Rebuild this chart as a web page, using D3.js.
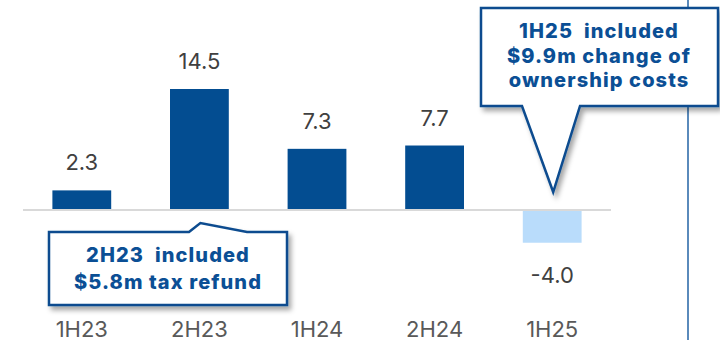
<!DOCTYPE html>
<html><head><meta charset="utf-8">
<script src="https://cdn.jsdelivr.net/npm/d3@7"></script>
<style>
html,body{margin:0;padding:0;background:#fff;}
svg{display:block;}
</style></head>
<body>
<svg id="chart" width="720" height="340"></svg>
<script>
const categories = ["1H23", "2H23", "1H24", "2H24", "1H25"];
const values = [2.3, 14.5, 7.3, 7.7, -4.0];
const valueLabels = ["2.3", "14.5", "7.3", "7.7", "-4.0"];
const callout1Lines = ["2H23  included", "$5.8m tax refund"];
const callout2Lines = ["1H25  included", "$9.9m change of", "ownership costs"];

const W = 720, H = 340;
const svg = d3.select("#chart");
const FONT = "Inter, 'Open Sans', sans-serif";

const defs = svg.append("defs");
const f = defs.append("filter").attr("id","shadow").attr("x","-10%").attr("y","-10%").attr("width","130%").attr("height","140%");
f.append("feDropShadow").attr("dx",3).attr("dy",4).attr("stdDeviation",2.5)
  .attr("flood-color","#000").attr("flood-opacity",0.35);

const x = d3.scaleBand().domain(categories).range([23, 611]).paddingInner(0.5).paddingOuter(0.25);
const y = d3.scaleLinear().domain([-10, 20]).range([292.6, 43.3]);

// vertical divider
svg.append("line").attr("x1",688).attr("x2",688).attr("y1",0).attr("y2",H)
  .attr("stroke","#5a8abb").attr("stroke-width",2);

// bars
svg.selectAll("rect.bar").data(values).join("rect").attr("class","bar")
  .attr("x",(d,i)=>x(categories[i]))
  .attr("width",x.bandwidth())
  .attr("y",d=>y(Math.max(0,d)))
  .attr("height",d=>Math.abs(y(d)-y(0)))
  .attr("fill",d=>d<0?"#b9dcfb":"#034d91");

// baseline
svg.append("line").attr("x1",23).attr("x2",611).attr("y1",y(0)+0.5).attr("y2",y(0)+0.5)
  .attr("stroke","#d9d9d9").attr("stroke-width",2);

// value labels
svg.selectAll("text.val").data(values).join("text").attr("class","val")
  .attr("x",(d,i)=>x(categories[i])+x.bandwidth()/2)
  .attr("y",d=>d>=0 ? y(d)-20 : y(d)+40)
  .attr("text-anchor","middle")
  .attr("font-family",FONT).attr("font-size",22).attr("fill","#404040")
  .text((d,i)=>valueLabels[i]);

// category labels
const xAxis = d3.axisBottom(x).tickSize(0).tickPadding(0);
const ax = svg.append("g").attr("transform",`translate(0,${H-3})`).call(xAxis);
ax.select(".domain").remove();
ax.selectAll("text").attr("dy",0).attr("font-family",FONT).attr("font-size",22).attr("fill","#595959");

// callouts
function callout(points, lines, cx, y0, dy) {
  const g = svg.append("g");
  g.append("path").attr("d","M"+points.map(p=>p.join(",")).join("L")+"Z")
    .attr("fill","#fff").attr("stroke","#0b4c8f").attr("stroke-width",2.5)
    .attr("stroke-linejoin","miter").attr("filter","url(#shadow)");
  g.selectAll("text").data(lines).join("text")
    .attr("x",cx).attr("y",(d,i)=>y0+i*dy)
    .attr("text-anchor","middle")
    .attr("font-family",FONT).attr("font-weight",800).attr("font-size",20)
    .attr("letter-spacing",1.1)
    .attr("fill","#0b4f95").attr("xml:space","preserve").style("white-space","pre")
    .text(d=>d);
}
// 2H23 callout (pointer up toward bar)
const c1x = x("2H23")+x.bandwidth()/2;
callout([[49,232],[189,232],[c1x+1,223],[247,232],[287,232],[287,305],[49,305]],
  callout1Lines, 168, 262, 26.5);
// 1H25 callout (pointer down toward bar)
const c2x = x("1H25")+x.bandwidth()/2;
callout([[481,8],[718,8],[718,106],[580,106],[c2x+1,192],[522,106],[481,106]],
  callout2Lines, 599, 38, 24.5);
</script>
</body></html>
